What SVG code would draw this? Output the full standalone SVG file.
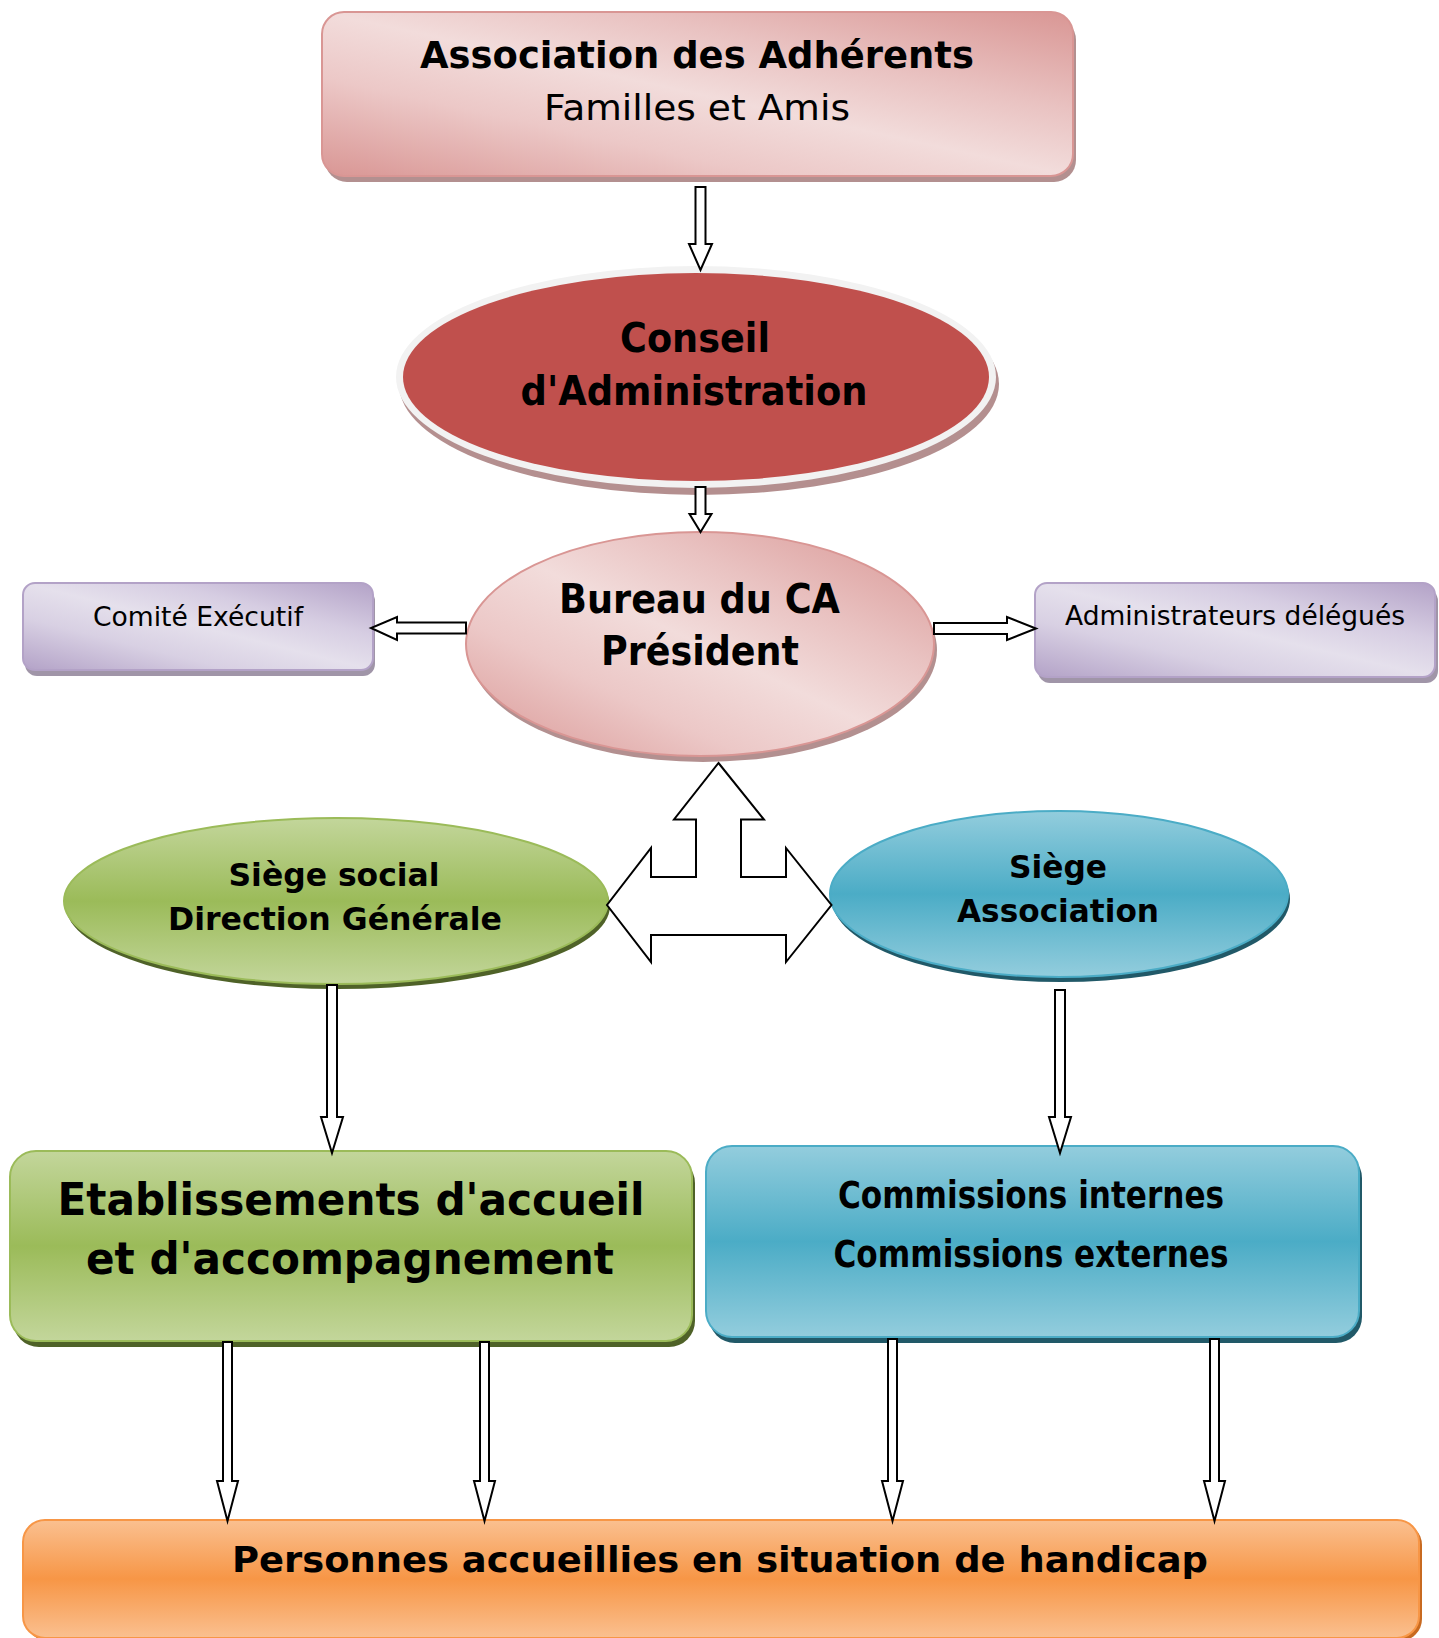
<svg xmlns="http://www.w3.org/2000/svg" width="1439" height="1638" viewBox="0 0 1439 1638">
<defs>
<linearGradient id="gPink" x1="0" y1="1" x2="1" y2="0">
<stop offset="0" stop-color="#d99694"/><stop offset="0.3" stop-color="#ecc8c7"/><stop offset="0.5" stop-color="#f2dcdb"/><stop offset="0.7" stop-color="#e9c2c1"/><stop offset="1" stop-color="#d99694"/>
</linearGradient>
<linearGradient id="gPurple" x1="0" y1="1" x2="1" y2="0">
<stop offset="0" stop-color="#b3a2c7"/><stop offset="0.3" stop-color="#d8d0e3"/><stop offset="0.5" stop-color="#e5e0ec"/><stop offset="0.7" stop-color="#d6cde2"/><stop offset="1" stop-color="#b3a2c7"/>
</linearGradient>
<linearGradient id="gGreen" x1="0" y1="0" x2="0" y2="1">
<stop offset="0" stop-color="#c3d69b"/><stop offset="0.5" stop-color="#9bbb59"/><stop offset="1" stop-color="#c3d69b"/>
</linearGradient>
<linearGradient id="gBlue" x1="0" y1="0" x2="0" y2="1">
<stop offset="0" stop-color="#93cddd"/><stop offset="0.5" stop-color="#4bacc6"/><stop offset="1" stop-color="#93cddd"/>
</linearGradient>
<linearGradient id="gOrange" x1="0" y1="0" x2="0" y2="1">
<stop offset="0" stop-color="#fac090"/><stop offset="0.5" stop-color="#f79646"/><stop offset="1" stop-color="#fac090"/>
</linearGradient>
<style>
text{font-family:"DejaVu Sans","Liberation Sans",sans-serif;fill:#000;text-anchor:middle}
.b{font-weight:bold}
.arr{fill:#fff;stroke:#000;stroke-width:2;stroke-linejoin:miter}
</style>
</defs>

<g id="node-adherents">
<rect x="325" y="18" width="751" height="164" rx="22" fill="#b39090"/>
<rect x="322" y="12" width="751" height="164" rx="22" fill="url(#gPink)" stroke="#d99694" stroke-width="2"/>
<text class="b" x="697" y="68" font-size="38" textLength="554" lengthAdjust="spacingAndGlyphs">Association des Adhérents</text>
<text x="697" y="120" font-size="36" textLength="306" lengthAdjust="spacingAndGlyphs">Familles et Amis</text>
</g>

<g id="node-conseil">
<ellipse cx="699" cy="384" rx="300" ry="111" fill="#b48f8f"/>
<ellipse cx="696" cy="377" rx="300" ry="111" fill="#f2f2f2"/>
<ellipse cx="696" cy="377" rx="293" ry="104" fill="#c0504d"/>
<text class="b" x="695" y="352" font-size="40" textLength="150" lengthAdjust="spacingAndGlyphs">Conseil</text>
<text class="b" x="694" y="405" font-size="40" textLength="347" lengthAdjust="spacingAndGlyphs">d'Administration</text>
</g>

<g id="node-bureau">
<ellipse cx="703" cy="650" rx="234" ry="112" fill="#b39090"/>
<ellipse cx="700" cy="644" rx="234" ry="112" fill="url(#gPink)" stroke="#d99694" stroke-width="2"/>
<text class="b" x="699.5" y="613" font-size="40" textLength="281" lengthAdjust="spacingAndGlyphs">Bureau du CA</text>
<text class="b" x="700" y="665" font-size="40" textLength="198" lengthAdjust="spacingAndGlyphs">Président</text>
</g>

<g id="node-comite">
<rect x="25" y="589" width="350" height="87" rx="12" fill="#a095a8"/>
<rect x="23" y="583" width="350" height="87" rx="12" fill="url(#gPurple)" stroke="#b3a2c7" stroke-width="2"/>
<text x="198" y="626" font-size="26" textLength="210" lengthAdjust="spacingAndGlyphs">Comité Exécutif</text>
</g>

<g id="node-admin">
<rect x="1038" y="589" width="400" height="94" rx="12" fill="#a095a8"/>
<rect x="1035" y="583" width="400" height="94" rx="12" fill="url(#gPurple)" stroke="#b3a2c7" stroke-width="2"/>
<text x="1235" y="625" font-size="26" textLength="340" lengthAdjust="spacingAndGlyphs">Administrateurs délégués</text>
</g>

<g id="node-siege-social">
<ellipse cx="338" cy="906" rx="272" ry="83" fill="#4f6228"/>
<ellipse cx="336" cy="901" rx="272" ry="83" fill="url(#gGreen)" stroke="#9bbb59" stroke-width="2"/>
<text class="b" x="334" y="886" font-size="32" textLength="211" lengthAdjust="spacingAndGlyphs">Siège social</text>
<text class="b" x="335" y="930" font-size="32" textLength="334" lengthAdjust="spacingAndGlyphs">Direction Générale</text>
</g>

<g id="node-siege-association">
<ellipse cx="1061" cy="899" rx="229" ry="83" fill="#215968"/>
<ellipse cx="1059" cy="894" rx="229" ry="83" fill="url(#gBlue)" stroke="#4bacc6" stroke-width="2"/>
<text class="b" x="1058" y="877.5" font-size="32" textLength="98" lengthAdjust="spacingAndGlyphs">Siège</text>
<text class="b" x="1058" y="922" font-size="32" textLength="202" lengthAdjust="spacingAndGlyphs">Association</text>
</g>

<g id="node-etablissements">
<rect x="13" y="1157" width="682" height="190" rx="26" fill="#4f6228"/>
<rect x="10" y="1151" width="682" height="190" rx="26" fill="url(#gGreen)" stroke="#9bbb59" stroke-width="2"/>
<text class="b" x="351" y="1215" font-size="44" textLength="587" lengthAdjust="spacingAndGlyphs">Etablissements d'accueil</text>
<text class="b" x="350" y="1274" font-size="44" textLength="528" lengthAdjust="spacingAndGlyphs">et d'accompagnement</text>
</g>

<g id="node-commissions">
<rect x="709" y="1152" width="653" height="191" rx="26" fill="#215968"/>
<rect x="706" y="1146" width="653" height="191" rx="26" fill="url(#gBlue)" stroke="#4bacc6" stroke-width="2"/>
<text class="b" x="1031" y="1207.5" font-size="37" textLength="386" lengthAdjust="spacingAndGlyphs">Commissions internes</text>
<text class="b" x="1031" y="1267" font-size="37" textLength="395" lengthAdjust="spacingAndGlyphs">Commissions externes</text>
</g>

<g id="node-personnes">
<rect x="26" y="1523" width="1396" height="118" rx="22" fill="#c86a20"/>
<rect x="23" y="1520" width="1396" height="118" rx="22" fill="url(#gOrange)" stroke="#f79646" stroke-width="2"/>
<text class="b" x="720" y="1572" font-size="36" textLength="976" lengthAdjust="spacingAndGlyphs">Personnes accueillies en situation de handicap</text>
</g>

<g id="connectors">
<path class="arr" d="M695.5,187 L705.5,187 L705.5,244 L712,244 L700.5,270 L689,244 L695.5,244 Z"/>
<path class="arr" d="M695.5,487 L705.5,487 L705.5,514 L711.5,514 L700.5,532 L689.5,514 L695.5,514 Z"/>
<path class="arr" d="M466,622.5 L397,622.5 L397,617 L371,628 L397,640 L397,633.5 L466,633.5 Z"/>
<path class="arr" d="M934,623 L1007,623 L1007,617 L1036,628.5 L1007,640 L1007,634 L934,634 Z"/>
<path class="arr" d="M718.5,763 L764,819.5 L741,819.5 L741,877 L786,877 L786,848 L831.5,905 L786,962 L786,935 L651,935 L651,962 L607,905 L651,848 L651,877 L696,877 L696,819.5 L674,819.5 Z"/>
<path class="arr" d="M327,985 L337,985 L337,1117 L343,1117 L332,1153 L321,1117 L327,1117 Z"/>
<path class="arr" d="M1055,990 L1065,990 L1065,1117 L1071,1117 L1060,1153 L1049,1117 L1055,1117 Z"/>
<path class="arr" d="M223,1342 L232,1342 L232,1481 L238,1481 L227.5,1521 L217,1481 L223,1481 Z"/>
<path class="arr" d="M480,1342 L489,1342 L489,1481 L495,1481 L484.5,1521 L474,1481 L480,1481 Z"/>
<path class="arr" d="M888,1339 L897,1339 L897,1481 L903,1481 L892.5,1521 L882,1481 L888,1481 Z"/>
<path class="arr" d="M1210,1339 L1219,1339 L1219,1481 L1225,1481 L1214.5,1521 L1204,1481 L1210,1481 Z"/>
</g>
</svg>
